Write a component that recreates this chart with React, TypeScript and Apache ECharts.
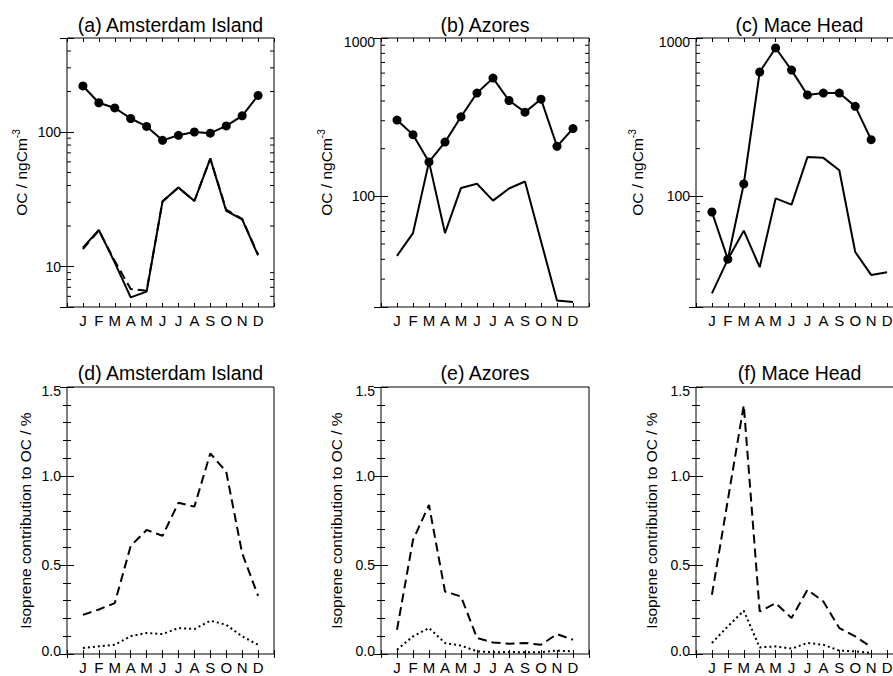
import React, { useEffect, useRef } from "react";
import * as echarts from "echarts";

const FONT = "'Liberation Sans', Arial, Helvetica, sans-serif";

// Month tick labels (x = 1..12)
const MONTHS = ["J", "F", "M", "A", "M", "J", "J", "A", "S", "O", "N", "D"];

// Panel titles
const TITLES = [
  "(a) Amsterdam Island",
  "(b) Azores",
  "(c) Mace Head",
  "(d) Amsterdam Island",
  "(e) Azores",
  "(f) Mace Head",
];

// (a) Amsterdam Island — OC / ngC m-3
const amsObserved = [220, 165, 151, 126, 110, 86.7, 94.5, 100, 98, 111, 132, 187];
const amsModelSolid = [13.8, 18.7, 10.7, 5.9, 6.5, 30.5, 38.6, 30.7, 63.4, 25.9, 22.4, 12.1];
const amsModelDashed = [13.5, 18.5, 11.0, 6.8, 6.6, 30.5, 38.6, 30.7, 63.4, 26.5, 22.6, 12.3];

// (b) Azores
const azoObserved = [303, 245, 165, 220, 318, 449, 558, 403, 340, 411, 207, 268];
const azoModel = [42.1, 58.6, 165, 58.6, 113, 120, 94, 112, 124, 52, 22.0, 21.5];

// (c) Mace Head
const macObserved = [79.6, 40.1, 119.7, 610, 865, 627, 437, 449, 449, 370, 228, null];
const macModel = [24.4, 40, 60.7, 35.7, 97, 88.6, 177, 175, 146, 44.5, 31.9, 33.2];

// (d)-(f) Isoprene contribution to OC / %
const amsIsoDashed = [0.22, 0.25, 0.286, 0.607, 0.697, 0.664, 0.85, 0.828, 1.127, 1.024, 0.566, 0.327];
const amsIsoDotted = [0.034, 0.043, 0.052, 0.1, 0.118, 0.112, 0.146, 0.14, 0.187, 0.164, 0.099, 0.052];
const azoIsoDashed = [0.136, 0.641, 0.837, 0.351, 0.323, 0.09, 0.065, 0.058, 0.062, 0.052, 0.112, 0.08];
const azoIsoDotted = [0.024, 0.099, 0.146, 0.062, 0.047, 0.015, 0.01, 0.011, 0.01, 0.01, 0.019, 0.015];
const macIsoDashed = [0.333, 0.865, 1.398, 0.239, 0.286, 0.202, 0.361, 0.295, 0.146, 0.099, 0.039, null];
const macIsoDotted = [0.062, 0.155, 0.243, 0.037, 0.043, 0.03, 0.062, 0.052, 0.019, 0.015, 0.006, null];

// Axis ranges
const logRanges = [
  [5, 500],
  [20, 1000],
  [20, 1000],
];
const pctTicks = [0, 1.5, 0.5];

const LAYOUT = [
  { left: 67, top: 38, width: 207, height: 269 },
  { left: 381, top: 38, width: 208, height: 269 },
  { left: 696, top: 38, width: 207, height: 269 },
  { left: 67, top: 387, width: 207, height: 267 },
  { left: 381, top: 387, width: 208, height: 267 },
  { left: 696, top: 387, width: 207, height: 267 },
];
const NAME_GAPS = [36, 45, 49, 34, 37, 37];

type Kind = "obs" | "solid" | "dash" | "dot";
const PANEL_SERIES: { data: (number | null)[]; kind: Kind }[][] = [
  [
    { data: amsModelDashed, kind: "dash" },
    { data: amsModelSolid, kind: "solid" },
    { data: amsObserved, kind: "obs" },
  ],
  [
    { data: azoModel, kind: "solid" },
    { data: azoObserved, kind: "obs" },
  ],
  [
    { data: macModel, kind: "solid" },
    { data: macObserved, kind: "obs" },
  ],
  [
    { data: amsIsoDashed, kind: "dash" },
    { data: amsIsoDotted, kind: "dot" },
  ],
  [
    { data: azoIsoDashed, kind: "dash" },
    { data: azoIsoDotted, kind: "dot" },
  ],
  [
    { data: macIsoDashed, kind: "dash" },
    { data: macIsoDotted, kind: "dot" },
  ],
];

function minorLogTicks(min: number, max: number): number[] {
  const out: number[] = [];
  for (let e = Math.floor(Math.log10(min)); e <= Math.ceil(Math.log10(max)); e++) {
    for (let k = 2; k <= 9; k++) {
      const v = k * Math.pow(10, e);
      if (v > min * 1.0001 && v < max * 0.9999) out.push(v);
    }
  }
  return out;
}

const minorTickRender = (params: any, api: any) => {
  const cs = params.coordSys;
  const y = api.coord([0, api.value(1)])[1];
  const st = { stroke: "#000", lineWidth: 1 };
  return {
    type: "group",
    children: [
      { type: "line", shape: { x1: cs.x, y1: y, x2: cs.x + 4, y2: y }, style: st },
      { type: "line", shape: { x1: cs.x + cs.width - 4, y1: y, x2: cs.x + cs.width, y2: y }, style: st },
    ],
  };
};

const labelRich = {
  mx: { padding: [8, 0, 0, 0], fontSize: 14, fontFamily: FONT, color: "#000" },
  mn: { padding: [0, 0, 7, 0], fontSize: 14, fontFamily: FONT, color: "#000" },
};

function logFormatter(min: number, max: number) {
  return (v: number) => {
    const l = Math.log10(v);
    const r = Math.round(l);
    if (Math.abs(l - r) > 1e-6) return "";
    const s = String(Math.round(Math.pow(10, r)));
    if (Math.abs(v - max) / max < 1e-6) return `{mx|${s}}`;
    if (Math.abs(v - min) / min < 1e-6) return `{mn|${s}}`;
    return s;
  };
}

function pctFormatter(v: number) {
  const s = v.toFixed(1);
  if (Math.abs(v - pctTicks[1]) < 1e-6) return `{mx|${s}}`;
  if (Math.abs(v - pctTicks[0]) < 1e-6) return `{mn|${s}}`;
  return s;
}

function buildOption() {
  const grid: any[] = [];
  const xAxis: any[] = [];
  const yAxis: any[] = [];
  const series: any[] = [];
  const title: any[] = [];

  LAYOUT.forEach((g, p) => {
    grid.push({
      ...g,
      show: true,
      borderColor: "#000",
      borderWidth: 1,
      backgroundColor: "transparent",
      containLabel: false,
      outerBoundsMode: "none",
    });
    title.push({
      text: TITLES[p],
      left: g.left + g.width / 2,
      top: p < 3 ? 25 : 373,
      textAlign: "center",
      textVerticalAlign: "middle",
      padding: 0,
      textStyle: { fontSize: 19.5, fontWeight: "normal", color: "#000", fontFamily: FONT },
    });

    const xBase = {
      type: "value",
      gridIndex: p,
      min: 0,
      max: 13,
      interval: 1,
      axisLine: { show: false },
      splitLine: { show: false },
      axisTick: { show: true, inside: true, length: 4, lineStyle: { color: "#000", width: 1 } },
    };
    xAxis.push({
      ...xBase,
      position: "bottom",
      axisLabel: {
        show: true,
        formatter: (v: number) => MONTHS[v - 1] ?? "",
        fontSize: 15,
        fontFamily: FONT,
        color: "#000",
        margin: 6,
      },
    });
    xAxis.push({ ...xBase, position: "top", axisLabel: { show: false } });

    const isLog = p < 3;
    const min = isLog ? logRanges[p][0] : pctTicks[0];
    const max = isLog ? logRanges[p][1] : pctTicks[1];
    const yBase: any = isLog
      ? { type: "log", logBase: 10, min, max }
      : {
          type: "value",
          min,
          max,
          interval: pctTicks[2],
          minorTick: { show: true, splitNumber: 5, length: 4, lineStyle: { color: "#000", width: 1 } },
        };
    Object.assign(yBase, {
      gridIndex: p,
      axisLine: { show: false },
      splitLine: { show: false },
      minorSplitLine: { show: false },
      axisTick: { show: true, inside: true, length: 7, lineStyle: { color: "#000", width: 1 } },
    });
    yAxis.push({
      ...yBase,
      position: "left",
      axisLabel: {
        show: true,
        formatter: isLog ? logFormatter(min, max) : pctFormatter,
        fontSize: 14,
        fontFamily: FONT,
        color: "#000",
        margin: 6,
        rich: labelRich,
      },
      name: isLog ? "{a|OC / ngCm}{s|-3}" : "Isoprene contribution to OC / %",
      nameLocation: "middle",
      nameRotate: 90,
      nameGap: NAME_GAPS[p],
      nameTextStyle: isLog
        ? {
            rich: {
              a: { fontSize: 15.5, fontFamily: FONT, color: "#000", lineHeight: 20 },
              s: { fontSize: 10, fontFamily: FONT, color: "#000", verticalAlign: "top" },
            },
          }
        : { fontSize: 15.5, fontFamily: FONT, color: "#000", lineHeight: 16 },
    });
    yAxis.push({ ...yBase, position: "right", axisLabel: { show: false } });

    PANEL_SERIES[p].forEach((s) => {
      const data = s.data
        .map((v, i) => (v === null ? null : [i + 1, v]))
        .filter((d) => d !== null);
      const lineType = s.kind === "dash" ? [9, 5] : s.kind === "dot" ? [2, 3] : "solid";
      series.push({
        type: "line",
        xAxisIndex: 2 * p,
        yAxisIndex: 2 * p,
        data,
        symbol: s.kind === "obs" ? "circle" : "none",
        symbolSize: 9,
        showSymbol: s.kind === "obs",
        itemStyle: { color: "#000" },
        lineStyle: { color: "#000", width: 2, type: lineType },
        silent: true,
        z: s.kind === "obs" ? 4 : 3,
      });
    });

    if (isLog) {
      series.push({
        type: "custom",
        xAxisIndex: 2 * p,
        yAxisIndex: 2 * p,
        data: minorLogTicks(min, max).map((v) => [0, v]),
        encode: { x: 0, y: 1 },
        renderItem: minorTickRender,
        silent: true,
        z: 2,
      });
    }
  });

  return {
    animation: false,
    backgroundColor: "#fff",
    title,
    grid,
    xAxis,
    yAxis,
    series,
  };
}

export default function App() {
  const ref = useRef<HTMLDivElement>(null);
  useEffect(() => {
    const chart = echarts.init(ref.current!, null, { renderer: "svg", width: 893, height: 676 });
    chart.setOption(buildOption() as any);
    return () => chart.dispose();
  }, []);
  return (
    <div
      ref={ref}
      style={{ position: "absolute", left: 0, top: 0, width: 893, height: 676, background: "#fff" }}
    />
  );
}
